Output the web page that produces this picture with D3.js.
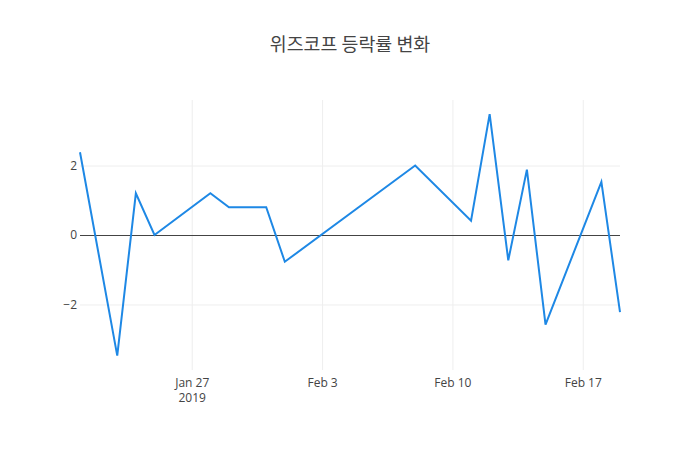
<!DOCTYPE html>
<html><head><meta charset="utf-8">
<script src="https://cdn.jsdelivr.net/npm/d3@7"></script>
<style>body{margin:0;background:#fff}svg{display:block}</style>
</head><body>
<svg id="c" width="700" height="450"></svg>
<script>
const title = "위즈코프 등락률 변화";
const dates = ["2019-01-21","2019-01-23","2019-01-24","2019-01-25","2019-01-28","2019-01-29","2019-01-31","2019-02-01","2019-02-08","2019-02-11","2019-02-12","2019-02-13","2019-02-14","2019-02-15","2019-02-18","2019-02-19"];
const values = [2.38,-3.47,1.2,0.0,1.2,0.8,0.8,-0.77,2.0,0.41,3.48,-0.73,1.88,-2.58,1.53,-2.22];
const yTicks = [-2,0,2];
const xTicks = ["2019-01-27","2019-02-03","2019-02-10","2019-02-17"];
const xTickLabels = ["Jan 27","Feb 3","Feb 10","Feb 17"];

const parse = d3.utcParse("%Y-%m-%d");
const data = dates.map((d,i)=>({x:parse(d), y:values[i]}));
const m = {l:80, r:80, t:100, b:80}, W=700, H=450;
const svg = d3.select("#c");
const font = "'Open Sans', sans-serif";

const x = d3.scaleUtc().domain(d3.extent(data,d=>d.x)).range([m.l, W-m.r]);
const y = d3.scaleLinear().domain([-3.885, 3.885]).range([H-m.b, m.t]);

// grid
const xg = svg.append("g").attr("transform",`translate(0,${H-m.b})`)
  .call(d3.axisBottom(x).tickValues(xTicks.map(parse)).tickSize(-(H-m.t-m.b)).tickFormat(""));
xg.select(".domain").remove();
xg.selectAll("line").attr("stroke","#eee");

const yg = svg.append("g").attr("transform",`translate(${m.l},0)`)
  .call(d3.axisLeft(y).tickValues(yTicks).tickSize(-(W-m.l-m.r)).tickFormat(d=>d<0?"\u2212"+Math.abs(d):d).tickPadding(3));
yg.select(".domain").remove();
yg.selectAll("line").attr("stroke",d=>d===0?"#444":"#eee").attr("stroke-width",1);
yg.selectAll("text").attr("font-family",font).attr("font-size",12).attr("fill","#444");

// x labels
const xl = svg.append("g").attr("transform",`translate(0,${H-m.b})`)
  .call(d3.axisBottom(x).tickValues(xTicks.map(parse)).tickSize(0).tickPadding(8)
  .tickFormat((d,i)=>xTickLabels[i]));
xl.select(".domain").remove();
xl.selectAll("text").attr("font-family",font).attr("font-size",12).attr("fill","#444");
xl.selectAll(".tick").filter((d,i)=>i===0).select("text")
  .append("tspan").attr("x",0).attr("dy","1.3em").text("2019");

// line
svg.append("path").datum(data)
  .attr("fill","none").attr("stroke","#1e88e5").attr("stroke-width",2).attr("stroke-linejoin","miter")
  .attr("d", d3.line().x(d=>x(d.x)).y(d=>y(d.y)));

svg.append("text").attr("x",W/2).attr("y",51).attr("text-anchor","middle")
  .attr("font-family","'Noto Sans CJK KR', "+font).attr("font-size",18.4).attr("fill","#444").text(title);
</script>
</body></html>
